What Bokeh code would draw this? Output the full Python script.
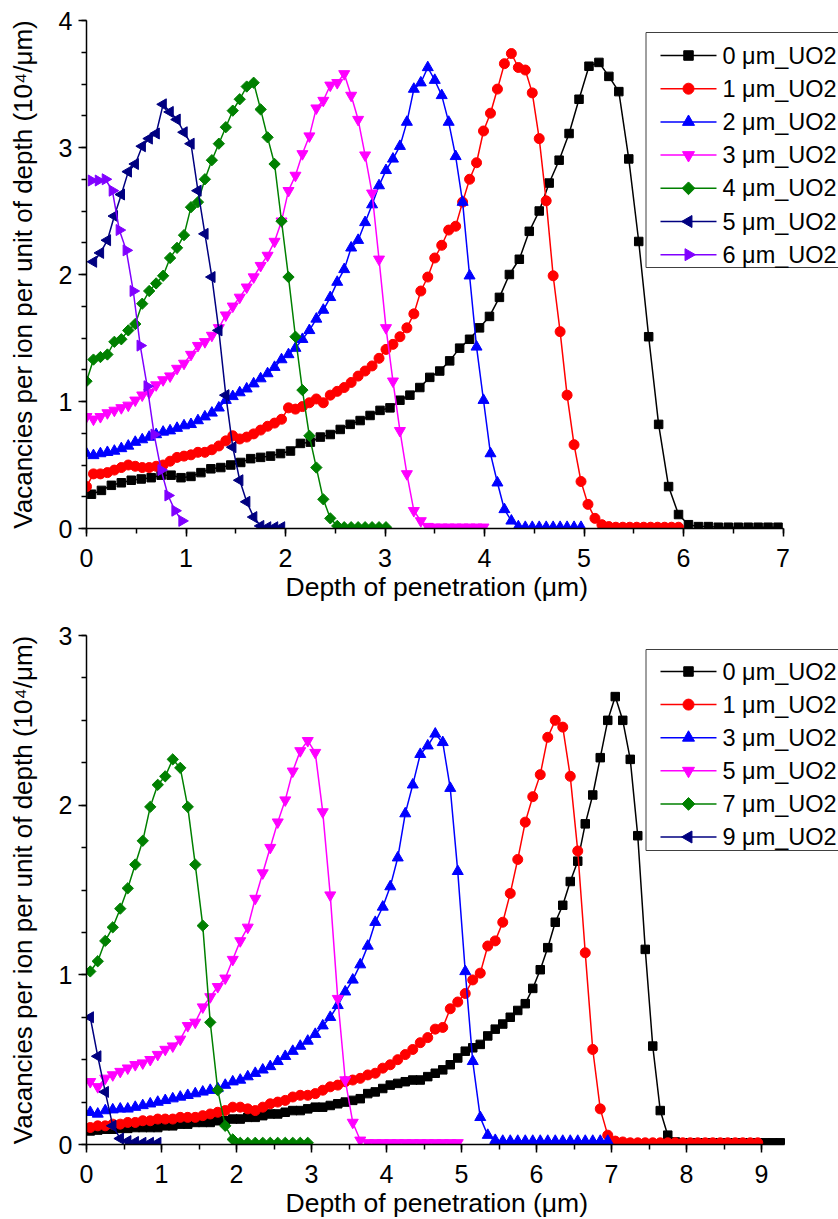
import math
from bokeh.plotting import figure
from bokeh.layouts import column
from bokeh.models import Range1d, SingleIntervalTicker, Title
from bokeh.core.properties import value
from bokeh.embed import file_html
from bokeh.resources import INLINE

FONT = "Liberation Sans"

# ---------------- data: top chart ----------------
top_labels = ["0 μm_UO2", "1 μm_UO2", "2 μm_UO2", "3 μm_UO2", "4 μm_UO2", "5 μm_UO2", "6 μm_UO2"]
top_start = [0.05, 0.0, 0.0, 0.0, 0.0, 0.07, 0.05]   # first depth (µm)
top_step = [0.1, 0.07, 0.07, 0.07, 0.07, 0.07, 0.07]  # depth bin width (µm)

top_0 = [0.27, 0.30, 0.34, 0.36, 0.38, 0.39, 0.40, 0.42, 0.42, 0.40,
         0.41, 0.44, 0.47, 0.48, 0.50, 0.52, 0.55, 0.56, 0.57, 0.59,
         0.61, 0.67, 0.68, 0.72, 0.74, 0.78, 0.82, 0.85, 0.89, 0.93,
         0.95, 1.01, 1.05, 1.11, 1.19, 1.24, 1.32, 1.42, 1.49, 1.58,
         1.67, 1.82, 2.00, 2.12, 2.34, 2.50, 2.72, 2.90, 3.11, 3.38,
         3.64, 3.67, 3.56, 3.44, 2.91, 2.26, 1.51, 0.82, 0.33, 0.11,
         0.03, 0.015, 0.015, 0.01, 0.01, 0.01, 0.01, 0.01, 0.01, 0.01]
top_1 = [0.33, 0.43, 0.43, 0.44, 0.46, 0.48, 0.50, 0.49, 0.48, 0.48,
         0.49, 0.50, 0.53, 0.56, 0.57, 0.58, 0.60, 0.60, 0.62, 0.65,
         0.69, 0.73, 0.705, 0.72, 0.745, 0.775, 0.805, 0.83, 0.86, 0.95,
         0.94, 0.96, 0.99, 1.02, 0.99, 1.05, 1.08, 1.11, 1.15, 1.20,
         1.24, 1.28, 1.34, 1.41, 1.45, 1.51, 1.58, 1.69, 1.87, 1.98,
         2.13, 2.23, 2.35, 2.38, 2.57, 2.75, 2.88, 3.13, 3.27, 3.46,
         3.66, 3.74, 3.63, 3.61, 3.43, 3.07, 2.58, 1.99, 1.55, 1.05,
         0.66, 0.37, 0.19, 0.08, 0.03, 0.015, 0.01, 0.01, 0.01, 0.01,
         0.01, 0.01, 0.01, 0.01, 0.01, 0.01]
top_2 = [0.59, 0.575, 0.59, 0.60, 0.61, 0.63, 0.65, 0.68, 0.70, 0.72,
         0.74, 0.76, 0.77, 0.79, 0.81, 0.82, 0.85, 0.88, 0.91, 0.95,
         1.01, 1.04, 1.07, 1.10, 1.14, 1.18, 1.22, 1.27, 1.33, 1.37,
         1.42, 1.49, 1.56, 1.65, 1.72, 1.82, 1.94, 2.04, 2.21, 2.27,
         2.41, 2.55, 2.70, 2.82, 2.91, 3.01, 3.20, 3.46, 3.51, 3.63,
         3.53, 3.41, 3.20, 2.93, 2.57, 1.99, 1.43, 1.01, 0.59, 0.36,
         0.15, 0.06, 0.015, 0.01, 0.01, 0.01, 0.01, 0.01, 0.01, 0.01,
         0.01, 0.01]
top_3 = [0.88, 0.86, 0.88, 0.91, 0.93, 0.95, 0.97, 1.01, 1.05, 1.07,
         1.13, 1.17, 1.20, 1.26, 1.30, 1.37, 1.44, 1.47, 1.52, 1.58,
         1.68, 1.75, 1.82, 1.90, 1.98, 2.07, 2.15, 2.26, 2.42, 2.66,
         2.78, 2.95, 3.09, 3.31, 3.37, 3.49, 3.51, 3.58, 3.41, 3.22,
         2.94, 2.64, 2.12, 1.58, 1.16, 0.77, 0.43, 0.14, 0.06, 0.015,
         0.01, 0.01, 0.01, 0.01, 0.01, 0.01, 0.01, 0.01]
top_4 = [1.16, 1.33, 1.35, 1.37, 1.47, 1.49, 1.56, 1.61, 1.77, 1.87,
         1.93, 1.99, 2.13, 2.21, 2.31, 2.53, 2.57, 2.75, 2.90, 3.03,
         3.16, 3.29, 3.38, 3.48, 3.51, 3.30, 3.08, 2.87, 2.42, 1.98,
         1.51, 1.09, 0.73, 0.48, 0.23, 0.08, 0.02, 0.01, 0.01, 0.01,
         0.01, 0.01, 0.01, 0.01]
top_5 = [2.10, 2.17, 2.27, 2.46, 2.63, 2.81, 2.87, 3.01, 3.07, 3.11,
         3.34, 3.28, 3.22, 3.12, 3.03, 2.66, 2.32, 1.98, 1.56, 1.05,
         0.64, 0.38, 0.21, 0.09, 0.02, 0.01, 0.01, 0.01]
top_6 = [2.74, 2.74, 2.75, 2.66, 2.35, 2.19, 1.87, 1.44, 1.12, 0.74,
         0.46, 0.26, 0.14, 0.06]
top_values = [top_0, top_1, top_2, top_3, top_4, top_5, top_6]

# ---------------- data: bottom chart ----------------
bot_labels = ["0 μm_UO2", "1 μm_UO2", "3 μm_UO2", "5 μm_UO2", "7 μm_UO2", "9 μm_UO2"]
bot_start = [0.05, 0.05, 0.05, 0.05, 0.05, 0.05]
bot_step = [0.1, 0.1, 0.1, 0.1, 0.1, 0.1]

bot_0 = [0.08, 0.085, 0.09, 0.09, 0.095, 0.095, 0.10, 0.10, 0.10, 0.10,
         0.11, 0.11, 0.12, 0.12, 0.13, 0.13, 0.13, 0.14, 0.14, 0.15,
         0.15, 0.16, 0.16, 0.17, 0.18, 0.18, 0.19, 0.20, 0.20, 0.21,
         0.22, 0.22, 0.23, 0.24, 0.25, 0.26, 0.27, 0.30, 0.31, 0.33,
         0.35, 0.36, 0.37, 0.38, 0.38, 0.40, 0.42, 0.44, 0.47, 0.51,
         0.55, 0.57, 0.59, 0.64, 0.68, 0.71, 0.75, 0.79, 0.83, 0.92,
         1.03, 1.16, 1.31, 1.41, 1.55, 1.67, 1.89, 2.06, 2.28, 2.50,
         2.64, 2.50, 2.27, 1.82, 1.15, 0.58, 0.20, 0.055, 0.015, 0.01,
         0.01, 0.01, 0.01, 0.01, 0.01, 0.01, 0.01, 0.01, 0.01, 0.01,
         0.01, 0.01, 0.01]
bot_1 = [0.10, 0.11, 0.11, 0.12, 0.12, 0.13, 0.13, 0.14, 0.14, 0.15,
         0.15, 0.15, 0.16, 0.16, 0.16, 0.17, 0.18, 0.19, 0.20, 0.22,
         0.22, 0.21, 0.20, 0.22, 0.24, 0.25, 0.26, 0.28, 0.29, 0.29,
         0.30, 0.32, 0.34, 0.35, 0.37, 0.38, 0.39, 0.41, 0.42, 0.45,
         0.47, 0.50, 0.53, 0.56, 0.60, 0.63, 0.68, 0.69, 0.80, 0.84,
         0.89, 0.97, 1.01, 1.17, 1.20, 1.31, 1.48, 1.68, 1.90, 2.05,
         2.18, 2.40, 2.50, 2.46, 2.17, 1.73, 1.13, 0.56, 0.21, 0.055,
         0.02, 0.015, 0.01, 0.01, 0.01, 0.01, 0.01, 0.01, 0.01, 0.01,
         0.01, 0.01, 0.01, 0.01, 0.01, 0.01, 0.01, 0.01, 0.01, 0.01]
bot_2 = [0.19, 0.18, 0.20, 0.205, 0.21, 0.21, 0.22, 0.23, 0.24, 0.25,
         0.26, 0.27, 0.28, 0.29, 0.30, 0.31, 0.32, 0.33, 0.35, 0.37,
         0.38, 0.40, 0.42, 0.44, 0.46, 0.49, 0.52, 0.55, 0.58, 0.61,
         0.65, 0.70, 0.75, 0.82, 0.90, 0.97, 1.06, 1.17, 1.31, 1.40,
         1.52, 1.69, 1.95, 2.12, 2.30, 2.35, 2.42, 2.37, 2.10, 1.61,
         1.02, 0.49, 0.16, 0.055, 0.025, 0.02, 0.02, 0.02, 0.02, 0.02,
         0.02, 0.02, 0.02, 0.02, 0.02, 0.02, 0.02, 0.02, 0.02, 0.02]
bot_3 = [0.37, 0.34, 0.39, 0.41, 0.43, 0.45, 0.47, 0.48, 0.50, 0.53,
         0.56, 0.58, 0.62, 0.70, 0.72, 0.81, 0.87, 0.93, 0.98, 1.09,
         1.20, 1.28, 1.45, 1.60, 1.75, 1.90, 2.03, 2.20, 2.32, 2.38,
         2.31, 1.96, 1.47, 0.86, 0.38, 0.13, 0.025, 0.01, 0.01, 0.01,
         0.01, 0.01, 0.01, 0.01, 0.01, 0.01, 0.01, 0.01, 0.01, 0.01]
bot_4 = [1.02, 1.08, 1.20, 1.28, 1.39, 1.51, 1.65, 1.79, 1.99, 2.12,
         2.17, 2.27, 2.22, 1.99, 1.65, 1.29, 0.72, 0.32, 0.11, 0.03,
         0.01, 0.01, 0.01, 0.01, 0.01, 0.01, 0.01, 0.01, 0.01, 0.01]
bot_5 = [0.75, 0.52, 0.31, 0.11, 0.035, 0.02, 0.015, 0.01, 0.01, 0.01]
bot_values = [bot_0, bot_1, bot_2, bot_3, bot_4, bot_5]

# ---------------- styles ----------------
# colour, marker, angle, plot size, legend size
STYLE = {
    "black":   ("#000000", "square", 0.0, 8.5, 9.5),
    "red":     ("#FF0000", "circle", 0.0, 10, 11),
    "blue":    ("#0000FF", "triangle", 0.0, 11, 12),
    "magenta": ("#FF00FF", "inverted_triangle", 0.0, 11, 12),
    "green":   ("#008000", "square", math.pi / 4, 8, 9),
    "navy":    ("#000080", "triangle", math.pi / 2, 11, 12),
    "violet":  ("#8000FF", "triangle", -math.pi / 2, 11, 12),
}
top_styles = ["black", "red", "blue", "magenta", "green", "navy", "violet"]
bot_styles = ["black", "red", "blue", "magenta", "green", "navy"]

X_TITLE = "Depth of penetration (μm)"
Y_TITLE = "Vacancies per ion per unit of depth (10⁴/μm)"

W = 838
B_LEFT = 86
FRAME_W = W - B_LEFT
X_TITLE_LEFT = 285      # canvas px where the x title starts


def build(height, b_top, b_bottom, px_per_x, x_axis_end, ymax, labels, starts,
          steps, values, styles, leg):
    frame_h = height - b_top - b_bottom
    x_end = FRAME_W / px_per_x
    p = figure(width=W, height=height,
               x_range=Range1d(0, x_end), y_range=Range1d(0, ymax),
               output_backend="svg", toolbar_location=None,
               min_border_left=B_LEFT, min_border_right=0,
               min_border_top=b_top, min_border_bottom=b_bottom)
    p.outline_line_color = None
    p.grid.visible = False
    p.background_fill_color = "white"
    p.border_fill_color = "white"

    p.xaxis.ticker = SingleIntervalTicker(interval=1, num_minor_ticks=2)
    p.yaxis.ticker = SingleIntervalTicker(interval=1, num_minor_ticks=4)
    p.xaxis.bounds = (0, x_axis_end)
    for ax in p.axis:
        ax.axis_line_width = 1.5
        ax.axis_line_color = "black"
        ax.major_tick_line_color = "black"
        ax.minor_tick_line_color = "black"
        ax.major_tick_line_width = 1.5
        ax.minor_tick_line_width = 1.5
        ax.major_tick_out = 8
        ax.major_tick_in = 0
        ax.minor_tick_out = 5
        ax.minor_tick_in = 0
        ax.major_label_text_font = FONT
        ax.major_label_text_font_size = "25px"
        ax.major_label_text_color = "black"
        ax.axis_label_text_font = FONT
        ax.axis_label_text_font_size = "26px"
        ax.axis_label_text_font_style = "normal"
        ax.axis_label_text_color = "black"
    p.xaxis.major_label_standoff = 12
    p.yaxis.major_label_standoff = 6
    p.yaxis.axis_label = Y_TITLE
    p.yaxis.axis_label_standoff = 18

    # x title centred under the 0..end axis span (not under the wider frame)
    xt = Title(text=X_TITLE, align="left", offset=X_TITLE_LEFT - B_LEFT,
               text_font=FONT, text_font_size="26.5px", text_font_style="normal",
               text_color="black", standoff=0)
    p.add_layout(xt, "below")

    for x0, dx, ys, st in zip(starts, steps, values, styles):
        color, marker, angle, size, _ = STYLE[st]
        xs = [round(x0 + i * dx, 3) for i in range(len(ys))]
        p.line(xs, ys, line_color=color, line_width=1.5)
        p.scatter(xs, ys, marker=marker, angle=angle, size=size,
                  fill_color=color, line_color=color, line_width=1)

    # ---- legend box drawn inside the frame (positions in canvas pixels) ----
    def dx_(px):
        return (px - B_LEFT) / px_per_x

    def dy_(py):
        return ymax * (b_top + frame_h - py) / frame_h

    p.quad(left=[dx_(leg["left"])], right=[dx_(W + 60)],
           top=[dy_(leg["top"])], bottom=[dy_(leg["bottom"])],
           fill_color="white", line_color="#404040", line_width=1)
    n = len(labels)
    rows = [dy_(leg["row0"] + leg["pitch"] * i) for i in range(n)]
    for i, st in enumerate(styles):
        color, marker, angle, _, lsize = STYLE[st]
        p.segment(x0=[dx_(leg["line0"])], x1=[dx_(leg["line1"])], y0=[rows[i]], y1=[rows[i]],
                  line_color=color, line_width=1.5)
        p.scatter([dx_((leg["line0"] + leg["line1"]) / 2)], [rows[i]], marker=marker,
                  angle=angle, size=lsize, fill_color=color, line_color=color, line_width=1)
    p.text(x=[dx_(leg["text"])] * n, y=rows, text=labels,
           text_font=value(FONT), text_font_size="23.5px", text_color="black",
           text_align="left", text_baseline="middle")
    return p


# legend geometry in each figure's own canvas pixels
top_leg = dict(left=645.5, top=32, bottom=267, row0=55, pitch=33.2,
               line0=660, line1=716, text=722)
bot_leg = dict(left=645.5, top=41, bottom=242, row0=63, pitch=33.1,
               line0=660, line1=716, text=722)

p1 = build(608, 20, 80, 99.5, 7, 4, top_labels, top_start, top_step,
           top_values, top_styles, top_leg)
p2 = build(611, 27, 75, 75.0, 9.3, 3, bot_labels, bot_start, bot_step,
           bot_values, bot_styles, bot_leg)

layout = column(p1, p2)
open("out.html", "w").write(file_html(layout, INLINE))
